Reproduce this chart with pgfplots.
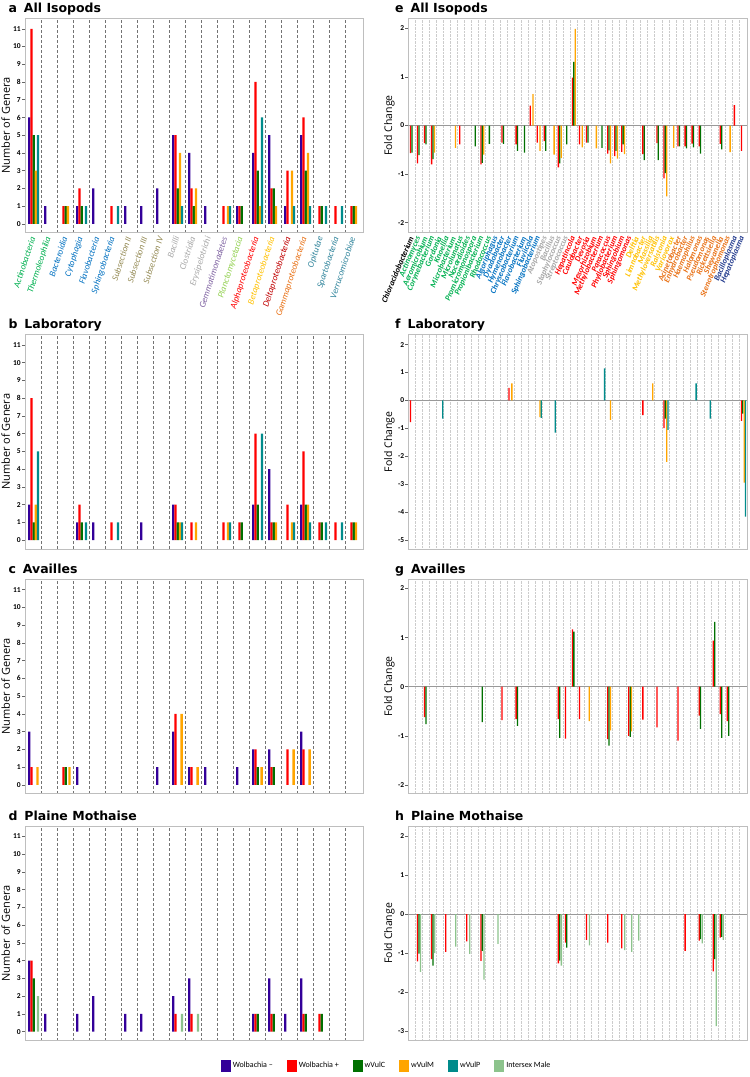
\documentclass[border=0pt]{standalone}
\usepackage{pgfplots}
\pgfplotsset{compat=1.18}
\usepackage{fontspec}
\setmainfont{Carlito}
\newfontfamily\osfont{Open Sans}
\newfontfamily\tfont{DejaVu Sans}
\definecolor{cneg}{RGB}{51,0,153}
\definecolor{cpos}{RGB}{255,0,0}
\definecolor{cC}{RGB}{0,112,0}
\definecolor{cM}{RGB}{255,165,0}
\definecolor{cP}{RGB}{0,139,139}
\definecolor{cI}{RGB}{140,195,140}
\definecolor{lAct}{RGB}{0,176,80}
\definecolor{lBac}{RGB}{0,112,192}
\definecolor{lCya}{RGB}{148,138,84}
\definecolor{lFir}{RGB}{166,166,166}
\definecolor{lGem}{RGB}{128,100,162}
\definecolor{lPla}{RGB}{146,208,80}
\definecolor{lAlp}{RGB}{255,0,0}
\definecolor{lBet}{RGB}{255,192,0}
\definecolor{lDel}{RGB}{192,0,0}
\definecolor{lGam}{RGB}{232,112,20}
\definecolor{lVer}{RGB}{49,133,156}
\definecolor{lTen}{RGB}{32,56,140}
\definecolor{frame}{RGB}{190,190,190}
\newcommand{\cl}[2]{\textcolor{#1}{#2}}
\pgfplotsset{
  base/.style={scale only axis, height=214.5pt, ybar,
    axis line style={frame, line width=0.9pt},
    ytick pos=left, xtick pos=bottom, tick align=outside, major tick length=3pt,
    ytick style={black!60, line width=0.5pt},
    xtick style={draw=none}, minor x tick style={draw=none},
    /pgf/number format/assume math mode=true,
    yticklabel style={font=\bfseries\fontsize{7.5}{8}\selectfont, inner sep=1pt},
    ylabel style={font=\osfont\fontsize{11}{12}\selectfont, anchor=south},
    title style={font=\tfont\bfseries\fontsize{12.5}{14}\selectfont, anchor=base west},
    every axis plot/.append style={draw=none}},
  leftax/.style={base, width=338pt, bar width=2.3pt,
    ymin=-0.5, ymax=11.59, xmin=-0.5, xmax=20.625,
    ytick={0,...,11}, xtick={0,...,20}, xticklabels={},
    minor xtick={0.5,1.5,...,19.5}, xminorgrids,
    minor grid style={black!55, line width=0.7pt, dash pattern=on 3pt off 2pt},
    ylabel={Number of Genera},
    ylabel style={at={(axis description cs:-0.034,0.5)}},
    title style={at={(axis description cs:-0.059,1.0)}}},
  rightax/.style={base, width=339pt, bar width=1.3pt,
    xmin=-0.5, xmax=47.65, xtick={0,...,47}, xticklabels={},
    minor xtick={0.5,1.5,...,46.5}, xminorgrids,
    minor grid style={black!20, densely dotted, line width=0.5pt},
    extra y ticks={0}, extra y tick labels={},
    extra y tick style={grid=major, major grid style={black!40, line width=1.3pt}, tick style={draw=none}},
    ylabel={Fold Change},
    ylabel style={at={(axis description cs:-0.03,0.5)}, font=\osfont\fontsize{10.5}{12}\selectfont},
    title style={at={(axis description cs:-0.049,1.0)}}},
}
\begin{document}
\begin{tikzpicture}
\path[use as bounding box] (0,0) rectangle (750pt,-1077pt);
% ---------------- a ----------------
\begin{axis}[leftax, at={(25pt,-18.3pt)}, anchor=north west,
  title={a\hspace{0.55em}All Isopods},
  xticklabels={\cl{lAct}{Actinobacteria},\cl{lAct}{Thermoleophilia},\cl{lBac}{Bacteroidia},\cl{lBac}{Cytophagia},\cl{lBac}{Flavobacteria},\cl{lBac}{Sphingobacteria},\cl{lCya}{Subsection II},\cl{lCya}{Subsection III},\cl{lCya}{Subsection IV},\cl{lFir}{Bacilli},\cl{lFir}{Clostridia},\cl{lFir}{Erysipelotrichi},\cl{lGem}{Gemmatimonadetes},\cl{lPla}{Planctomycetacia},\cl{lAlp}{Alphaproteobacteria},\cl{lBet}{Betaproteobacteria},\cl{lDel}{Deltaproteobacteria},\cl{lGam}{Gammaproteobacteria},\cl{lVer}{Opitutae},\cl{lVer}{Spartobacteria},\cl{lVer}{Verrucomicrobiae}},
  xticklabel style={rotate=72, anchor=east, font=\itshape\fontsize{9}{10}\selectfont, inner sep=1pt}]
\addplot[fill=cneg, bar shift=-3.7pt] coordinates {(0,6)(1,1)(3,1)(4,2)(6,1)(7,1)(8,2)(9,5)(10,4)(11,1)(13,1)(14,4)(15,5)(16,1)(17,5)};
\addplot[fill=cpos, bar shift=-1.5pt] coordinates {(0,11)(2,1)(3,2)(5,1)(9,5)(10,2)(12,1)(13,1)(14,8)(15,2)(16,3)(17,6)(18,1)(19,1)(20,1)};
\addplot[fill=cC, bar shift=0.8pt] coordinates {(0,5)(2,1)(3,1)(9,2)(10,1)(13,1)(14,3)(15,2)(17,3)(18,1)(20,1)};
\addplot[fill=cM, bar shift=2.9pt] coordinates {(0,3)(2,1)(9,4)(10,2)(12,1)(14,1)(15,1)(16,3)(17,4)(20,1)};
\addplot[fill=cP, bar shift=5pt] coordinates {(0,5)(3,1)(5,1)(9,1)(12,1)(14,6)(16,1)(17,1)(18,1)(19,1)};
\end{axis}
% ---------------- b ----------------
\begin{axis}[leftax, at={(25pt,-334.5pt)}, anchor=north west, title={b\hspace{0.55em}Laboratory}]
\addplot[fill=cneg, bar shift=-3.7pt] coordinates {(0,2)(3,1)(4,1)(7,1)(9,2)(14,2)(15,4)(17,2)};
\addplot[fill=cpos, bar shift=-1.5pt] coordinates {(0,8)(3,2)(5,1)(9,2)(10,1)(12,1)(13,1)(14,6)(15,1)(16,2)(17,5)(18,1)(19,1)(20,1)};
\addplot[fill=cC, bar shift=0.8pt] coordinates {(0,1)(3,1)(9,1)(13,1)(14,2)(15,1)(17,2)(18,1)(20,1)};
\addplot[fill=cM, bar shift=2.9pt] coordinates {(0,2)(9,1)(10,1)(12,1)(15,1)(16,1)(17,2)(20,1)};
\addplot[fill=cP, bar shift=5pt] coordinates {(0,5)(3,1)(5,1)(9,1)(12,1)(14,6)(16,1)(17,1)(18,1)(19,1)};
\end{axis}
% ---------------- c ----------------
\begin{axis}[leftax, at={(25pt,-579.2pt)}, anchor=north west, title={c\hspace{0.55em}Availles}]
\addplot[fill=cneg, bar shift=-3.7pt] coordinates {(0,3)(3,1)(8,1)(9,3)(10,1)(11,1)(13,1)(14,2)(15,2)(17,3)};
\addplot[fill=cpos, bar shift=-1.5pt] coordinates {(0,1)(2,1)(9,4)(10,1)(14,2)(15,1)(16,2)(17,2)};
\addplot[fill=cC, bar shift=0.8pt] coordinates {(2,1)(14,1)(15,1)};
\addplot[fill=cM, bar shift=4.6pt] coordinates {(0,1)(2,1)(9,4)(10,1)(14,1)(16,2)(17,2)};
\end{axis}
% ---------------- d ----------------
\begin{axis}[leftax, at={(25pt,-826pt)}, anchor=north west, title={d\hspace{0.55em}Plaine Mothaise},
  legend style={at={(1.07,-0.118)}, anchor=center, draw=none, fill=none,
    font=\fontsize{8}{9}\selectfont, legend columns=6,
    /tikz/every even column/.append style={column sep=12pt}},
  legend image code/.code={\fill[#1] (0pt,-6pt) rectangle (10pt,6pt);}]
\addplot[forget plot, fill=cneg, bar shift=-3.7pt] coordinates {(0,4)(1,1)(3,1)(4,2)(6,1)(7,1)(9,2)(10,3)(14,1)(15,3)(16,1)(17,3)};
\addplot[forget plot, fill=cpos, bar shift=-1.5pt] coordinates {(0,4)(9,1)(10,1)(14,1)(15,1)(17,1)(18,1)};
\addplot[forget plot, fill=cC, bar shift=0.8pt] coordinates {(0,3)(14,1)(15,1)(17,1)(18,1)};
\addplot[forget plot, fill=cI, bar shift=5pt] coordinates {(0,2)(9,1)(10,1)};
\addlegendimage{fill=cneg}\addlegendentry{Wolbachia –}
\addlegendimage{fill=cpos}\addlegendentry{Wolbachia +}
\addlegendimage{fill=cC}\addlegendentry{wVulC}
\addlegendimage{fill=cM}\addlegendentry{wVulM}
\addlegendimage{fill=cP}\addlegendentry{wVulP}
\addlegendimage{fill=cI}\addlegendentry{Intersex Male}
\end{axis}
% ---------------- e ----------------
\begin{axis}[rightax, at={(408.3pt,-18.3pt)}, anchor=north west, title={e\hspace{0.55em}All Isopods},
  ymin=-2.21, ymax=2.21, ytick={-2,-1,0,1,2},
  xticklabels={\cl{black}{Chloracidobacterium},\cl{lAct}{Actinomyces},\cl{lAct}{Aeromicrobium},\cl{lAct}{Corynebacterium},\cl{lAct}{Gordonia},\cl{lAct}{Knoellia},\cl{lAct}{Microbacterium},\cl{lAct}{Microlunatus},\cl{lAct}{Nocardioides},\cl{lAct}{Promicromonospora},\cl{lAct}{Propionibacterium},\cl{lAct}{Rhodococcus},\cl{lBac}{Algoriphagus},\cl{lBac}{Dyadobacter},\cl{lBac}{Hymenobacter},\cl{lBac}{Chryseobacterium},\cl{lBac}{Flavobacterium},\cl{lBac}{Fluviicola},\cl{lBac}{Sphingobacterium},\cl{lFir}{Atopostipes},\cl{lFir}{Bacillus},\cl{lFir}{Staphylococcus},\cl{lFir}{Streptococcus},\cl{lAlp}{Hepatincola},\cl{lAlp}{Caulobacter},\cl{lAlp}{Devosia},\cl{lAlp}{Mesorhizobium},\cl{lAlp}{Methylobacterium},\cl{lAlp}{Paracoccus},\cl{lAlp}{Phyllobacterium},\cl{lAlp}{Sphingobium},\cl{lAlp}{Sphingomonas},\cl{lBet}{Delftia},\cl{lBet}{Limnobacter},\cl{lBet}{Massilia},\cl{lBet}{Methyloversatilis},\cl{lBet}{Ralstonia},\cl{lBet}{Variovorax},\cl{lGam}{Acinetobacter},\cl{lGam}{Enhydrobacter},\cl{lGam}{Haemophilus},\cl{lGam}{Halomonas},\cl{lGam}{Pseudomonas},\cl{lGam}{Rickettsiella},\cl{lGam}{Shewanella},\cl{lGam}{Stenotrophomonas},\cl{lTen}{Bacilloplasma},\cl{lTen}{Hepatoplasma}},
  xticklabel style={rotate=67, anchor=east, font=\bfseries\itshape\fontsize{8.2}{9}\selectfont, inner sep=1pt}]
\addplot[fill=cpos, bar shift=-1.3pt] coordinates {(0,-0.57)(1,-0.78)(2,-0.36)(3,-0.80)(7,-0.39)(10,-0.80)(13,-0.35)(15,-0.39)(17,0.41)(18,-0.35)(19,-0.32)(21,-0.86)(23,0.99)(24,-0.39)(25,-0.35)(28,-0.58)(29,-0.63)(30,-0.54)(33,-0.59)(35,-0.36)(36,-1.09)(38,-0.43)(39,-0.43)(40,-0.37)(41,-0.43)(44,-0.38)(46,0.42)(47,-0.52)};
\addplot[fill=cC, bar shift=0.1pt] coordinates {(0,-0.56)(1,-0.61)(2,-0.39)(3,-0.69)(9,-0.43)(10,-0.77)(11,-0.38)(13,-0.38)(15,-0.52)(16,-0.56)(19,-0.52)(21,-0.78)(22,-0.39)(23,1.31)(25,-0.35)(27,-0.46)(28,-0.51)(29,-0.52)(30,-0.39)(33,-0.71)(35,-0.71)(36,-0.98)(38,-0.43)(39,-0.47)(40,-0.45)(41,-0.58)(44,-0.49)};
\addplot[fill=cM, bar shift=1.5pt] coordinates {(3,-0.56)(6,-0.46)(10,-0.60)(17,0.65)(18,-0.52)(20,-0.60)(21,-0.67)(23,1.99)(24,-0.45)(26,-0.47)(28,-0.78)(29,-0.68)(30,-0.59)(36,-1.46)(37,-0.46)(45,-0.55)};
\end{axis}
% ---------------- f ----------------
\begin{axis}[rightax, at={(408.3pt,-334.5pt)}, anchor=north west, title={f\hspace{0.55em}Laboratory},
  ymin=-5.33, ymax=2.36, ytick={-5,...,2}]
\addplot[fill=cpos, bar shift=-1.3pt] coordinates {(0,-0.78)(14,0.45)(33,-0.53)(36,-1.0)(47,-0.74)};
\addplot[fill=cC, bar shift=0.1pt] coordinates {(36,-0.66)(47,-0.48)};
\addplot[fill=cM, bar shift=1.5pt] coordinates {(14,0.61)(18,-0.60)(28,-0.70)(34,0.61)(36,-2.21)(47,-2.95)};
\addplot[fill=cP, bar shift=2.7pt] coordinates {(4,-0.66)(18,-0.63)(20,-1.16)(27,1.15)(36,-1.06)(40,0.61)(42,-0.66)(47,-4.17)};
\end{axis}
% ---------------- g ----------------
\begin{axis}[rightax, at={(408.3pt,-579.2pt)}, anchor=north west, title={g\hspace{0.55em}Availles},
  ymin=-2.18, ymax=2.19, ytick={-2,-1,0,1,2}]
\addplot[fill=cpos, bar shift=-1.3pt] coordinates {(2,-0.62)(13,-0.68)(15,-0.66)(21,-0.66)(22,-1.06)(23,1.17)(24,-0.66)(28,-1.07)(31,-1.0)(33,-0.67)(35,-0.83)(38,-1.10)(41,-0.59)(43,0.94)(44,-0.56)(45,-0.70)};
\addplot[fill=cC, bar shift=0.1pt] coordinates {(2,-0.76)(10,-0.72)(15,-0.80)(21,-1.04)(23,1.12)(28,-1.20)(31,-1.02)(41,-0.86)(43,1.32)(44,-1.04)(45,-1.0)};
\addplot[fill=cM, bar shift=1.5pt] coordinates {(25,-0.70)(28,-0.89)(31,-0.91)};
\end{axis}
% ---------------- h ----------------
\begin{axis}[rightax, at={(408.3pt,-826pt)}, anchor=north west, title={h\hspace{0.55em}Plaine Mothaise},
  ymin=-3.24, ymax=2.26, ytick={-3,...,2}]
\addplot[fill=cpos, bar shift=-1.3pt] coordinates {(1,-1.21)(3,-1.15)(5,-0.97)(8,-0.70)(10,-1.20)(21,-1.26)(22,-0.73)(25,-0.66)(28,-0.73)(30,-0.88)(39,-0.94)(41,-0.68)(43,-1.47)(44,-0.60)};
\addplot[fill=cC, bar shift=0.1pt] coordinates {(1,-1.01)(3,-1.32)(10,-0.94)(21,-1.19)(22,-0.86)(41,-0.64)(43,-1.15)(44,-0.58)};
\addplot[fill=cI, bar shift=1.7pt] coordinates {(1,-1.48)(3,-1.0)(6,-0.83)(8,-1.02)(10,-1.68)(12,-0.76)(21,-1.32)(25,-0.80)(30,-0.92)(31,-0.97)(32,-0.68)(41,-0.75)(43,-2.87)(44,-0.66)};
\end{axis}
\end{tikzpicture}
\end{document}
